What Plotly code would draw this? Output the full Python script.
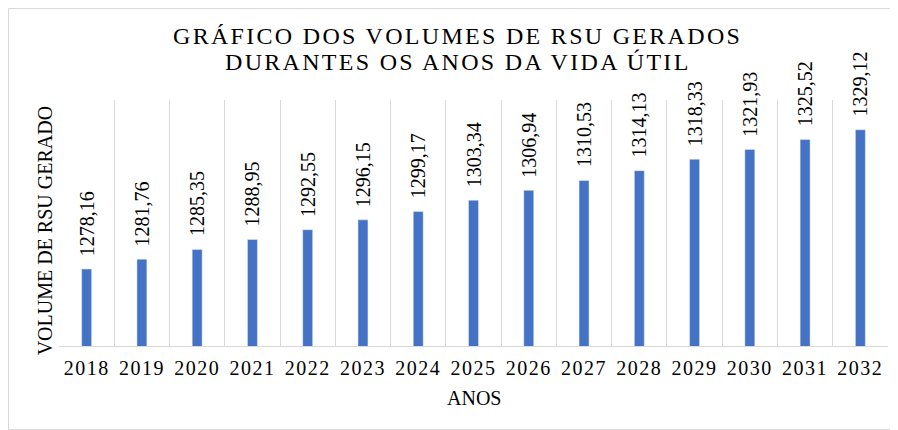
import plotly.graph_objects as go

anos = ["2018", "2019", "2020", "2021", "2022", "2023", "2024", "2025",
        "2026", "2027", "2028", "2029", "2030", "2031", "2032"]
volumes = [1278.16, 1281.76, 1285.35, 1288.95, 1292.55, 1296.15, 1299.17, 1303.34,
           1306.94, 1310.53, 1314.13, 1318.33, 1321.93, 1325.52, 1329.12]
rotulos = [f"{v:.2f}".replace(".", ",") for v in volumes]
titulo = ["GRÁFICO DOS VOLUMES DE RSU GERADOS", "DURANTES OS ANOS DA VIDA ÚTIL"]

FONT = "Liberation Serif"
fig = go.Figure()
fig.add_trace(go.Bar(
    x=anos, y=volumes, marker_color="#4472C4", width=0.18,
    hoverinfo="x+y", showlegend=False,
))
for i, (v, t) in enumerate(zip(volumes, rotulos)):
    fig.add_annotation(x=i, y=v, text=t, textangle=-90, showarrow=False,
                       yanchor="bottom", xanchor="center", yshift=11,
                       font=dict(family=FONT, size=20, color="#000000"))

sp = lambda s, ls: f'<span style="letter-spacing:{ls}px">{s}</span>'

for txt, yy in zip(titulo, [1.260, 1.1545]):
    fig.add_annotation(text=sp(txt, 2.3), xref="paper", yref="paper", x=0.481, y=yy,
                       showarrow=False, xanchor="center", yanchor="middle",
                       font=dict(family=FONT, size=24, color="#000000"))

fig.add_annotation(text="VOLUME DE RSU GERADO", xref="paper", yref="paper",
                   x=-0.0169, y=0.47, textangle=-90, showarrow=False,
                   xanchor="center", yanchor="middle",
                   font=dict(family=FONT, size=20, color="#000000"))
fig.add_annotation(text="ANOS", xref="paper", yref="paper",
                   x=0.5, y=-0.211, showarrow=False,
                   xanchor="center", yanchor="middle",
                   font=dict(family=FONT, size=20, color="#000000"))

fig.update_layout(
    width=890, height=422,
    margin=dict(l=51, r=10, t=92, b=84),
    paper_bgcolor="white", plot_bgcolor="white",
    xaxis=dict(type="category", range=[-0.5, 14.5], tickson="boundaries", showgrid=True,
               gridcolor="#d9d9d9", gridwidth=1, showline=True, linecolor="#d9d9d9", ticks="",
               tickangle=0, automargin=False,
               tickvals=anos, ticktext=[sp(a, 1.5) for a in anos],
               ticklabelstandoff=4,
               tickfont=dict(family=FONT, size=20, color="#000000")),
    yaxis=dict(range=[1250, 1340], showticklabels=False, showgrid=False, zeroline=False,
               showline=False, ticks="", automargin=False),
    shapes=[dict(type="rect", xref="paper", yref="paper", x0=-0.0609, x1=1.0072, y0=-0.339, y1=1.372,
                 line=dict(color="#d9d9d9", width=1), layer="below")],
)
fig.write_html("out.html")
